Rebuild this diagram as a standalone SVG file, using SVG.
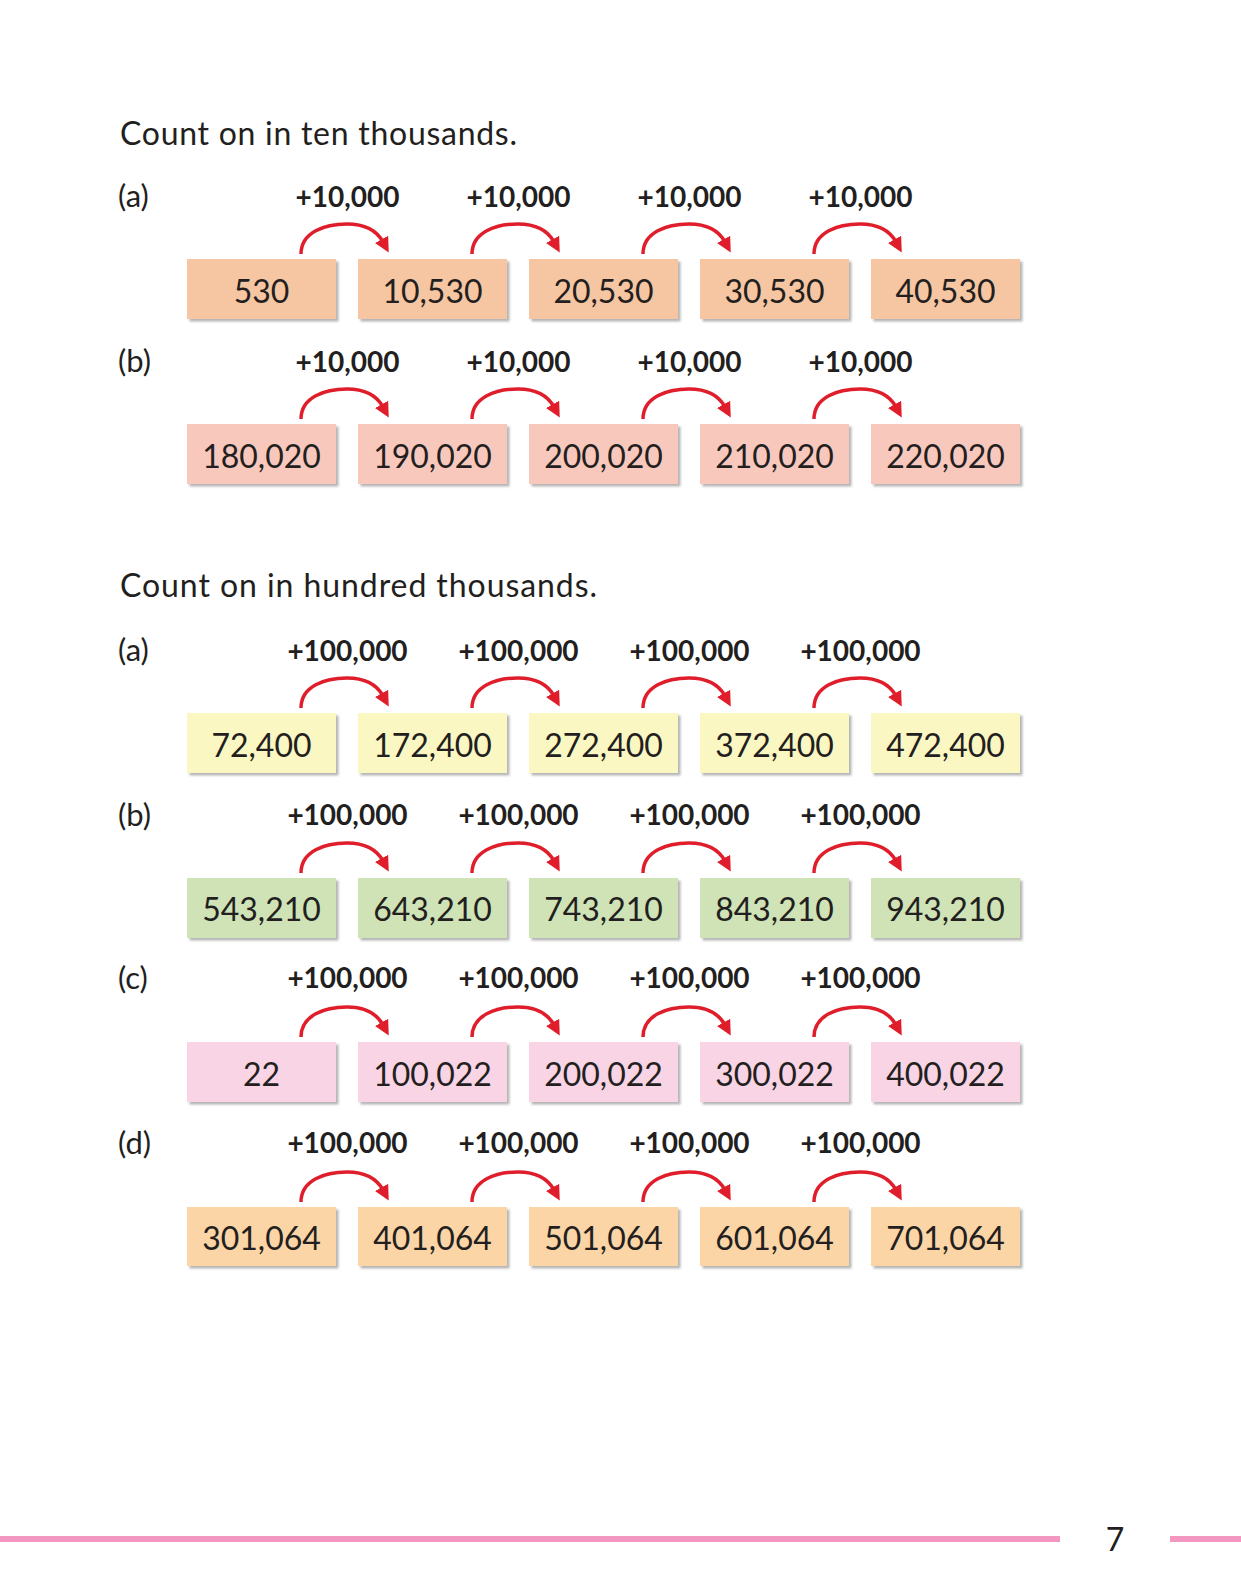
<svg xmlns="http://www.w3.org/2000/svg" width="1241" height="1595" viewBox="0 0 1241 1595">
<style>
.title{font-family:Lato,"Open Sans","Liberation Sans",sans-serif;font-size:32px;fill:#231f20}
.rl{font-family:Lato,"Open Sans","Liberation Sans",sans-serif;font-size:31px;fill:#231f20}
.lbl{font-family:Lato,"Liberation Sans",sans-serif;font-size:28px;font-weight:bold;fill:#231f20;text-anchor:middle}
.num{font-family:Lato,"Open Sans","Liberation Sans",sans-serif;font-size:32px;fill:#231f20;text-anchor:middle}
.box{filter:url(#sh)}
.c1{fill:#f6c6a2}.c2{fill:#f9c8bd}.c3{fill:#fbf7c2}.c4{fill:#cfe3b6}.c5{fill:#f8d4e4}.c6{fill:#fcd5a6}
.arr{fill:none;stroke:#e01e2b;stroke-width:3.5;marker-end:url(#ah)}
</style>
<defs>
<filter id="sh" x="-5%" y="-5%" width="115%" height="125%">
<feDropShadow dx="2.5" dy="2.5" stdDeviation="1.2" flood-color="#7a7a7a" flood-opacity="0.55"/>
</filter>
<marker id="ah" viewBox="0 0 10 10" refX="2" refY="5" markerWidth="15" markerHeight="15" markerUnits="userSpaceOnUse" orient="auto">
<path d="M0,0 L10,5 L0,10 z" fill="#e01e2b"/>
</marker>
</defs>
<rect width="1241" height="1595" fill="#ffffff"/>

<text class="title" x="120" y="145" textLength="397" lengthAdjust="spacing">Count on in ten thousands.</text>
<text class="title" x="120" y="597" textLength="477" lengthAdjust="spacing">Count on in hundred thousands.</text>

<g id="row-labels">
<text class="rl" x="118" y="207">(a)</text>
<text class="rl" x="118" y="372">(b)</text>
<text class="rl" x="118" y="661">(a)</text>
<text class="rl" x="118" y="826">(b)</text>
<text class="rl" x="118" y="989">(c)</text>
<text class="rl" x="118" y="1154">(d)</text>
</g>

<!-- Section 1 row a -->
<g id="n1a1"><rect class="box c1" x="187" y="259" width="149" height="60"/><text class="num" x="261.5" y="303">530</text></g>
<g id="n1a2"><rect class="box c1" x="358" y="259" width="149" height="60"/><text class="num" x="432.5" y="303">10,530</text></g>
<g id="n1a3"><rect class="box c1" x="529" y="259" width="149" height="60"/><text class="num" x="603.5" y="303">20,530</text></g>
<g id="n1a4"><rect class="box c1" x="700" y="259" width="149" height="60"/><text class="num" x="774.5" y="303">30,530</text></g>
<g id="n1a5"><rect class="box c1" x="871" y="259" width="149" height="60"/><text class="num" x="945.5" y="303">40,530</text></g>

<!-- Section 1 row b -->
<g id="n1b1"><rect class="box c2" x="187" y="424" width="149" height="60"/><text class="num" x="261.5" y="468">180,020</text></g>
<g id="n1b2"><rect class="box c2" x="358" y="424" width="149" height="60"/><text class="num" x="432.5" y="468">190,020</text></g>
<g id="n1b3"><rect class="box c2" x="529" y="424" width="149" height="60"/><text class="num" x="603.5" y="468">200,020</text></g>
<g id="n1b4"><rect class="box c2" x="700" y="424" width="149" height="60"/><text class="num" x="774.5" y="468">210,020</text></g>
<g id="n1b5"><rect class="box c2" x="871" y="424" width="149" height="60"/><text class="num" x="945.5" y="468">220,020</text></g>

<!-- Section 2 row a -->
<g id="n2a1"><rect class="box c3" x="187" y="713" width="149" height="60"/><text class="num" x="261.5" y="757">72,400</text></g>
<g id="n2a2"><rect class="box c3" x="358" y="713" width="149" height="60"/><text class="num" x="432.5" y="757">172,400</text></g>
<g id="n2a3"><rect class="box c3" x="529" y="713" width="149" height="60"/><text class="num" x="603.5" y="757">272,400</text></g>
<g id="n2a4"><rect class="box c3" x="700" y="713" width="149" height="60"/><text class="num" x="774.5" y="757">372,400</text></g>
<g id="n2a5"><rect class="box c3" x="871" y="713" width="149" height="60"/><text class="num" x="945.5" y="757">472,400</text></g>

<!-- Section 2 row b -->
<g id="n2b1"><rect class="box c4" x="187" y="878" width="149" height="60"/><text class="num" x="261.5" y="921">543,210</text></g>
<g id="n2b2"><rect class="box c4" x="358" y="878" width="149" height="60"/><text class="num" x="432.5" y="921">643,210</text></g>
<g id="n2b3"><rect class="box c4" x="529" y="878" width="149" height="60"/><text class="num" x="603.5" y="921">743,210</text></g>
<g id="n2b4"><rect class="box c4" x="700" y="878" width="149" height="60"/><text class="num" x="774.5" y="921">843,210</text></g>
<g id="n2b5"><rect class="box c4" x="871" y="878" width="149" height="60"/><text class="num" x="945.5" y="921">943,210</text></g>

<!-- Section 2 row c -->
<g id="n2c1"><rect class="box c5" x="187" y="1042" width="149" height="60"/><text class="num" x="261.5" y="1086">22</text></g>
<g id="n2c2"><rect class="box c5" x="358" y="1042" width="149" height="60"/><text class="num" x="432.5" y="1086">100,022</text></g>
<g id="n2c3"><rect class="box c5" x="529" y="1042" width="149" height="60"/><text class="num" x="603.5" y="1086">200,022</text></g>
<g id="n2c4"><rect class="box c5" x="700" y="1042" width="149" height="60"/><text class="num" x="774.5" y="1086">300,022</text></g>
<g id="n2c5"><rect class="box c5" x="871" y="1042" width="149" height="60"/><text class="num" x="945.5" y="1086">400,022</text></g>

<!-- Section 2 row d -->
<g id="n2d1"><rect class="box c6" x="187" y="1207" width="149" height="59"/><text class="num" x="261.5" y="1250">301,064</text></g>
<g id="n2d2"><rect class="box c6" x="358" y="1207" width="149" height="59"/><text class="num" x="432.5" y="1250">401,064</text></g>
<g id="n2d3"><rect class="box c6" x="529" y="1207" width="149" height="59"/><text class="num" x="603.5" y="1250">501,064</text></g>
<g id="n2d4"><rect class="box c6" x="700" y="1207" width="149" height="59"/><text class="num" x="774.5" y="1250">601,064</text></g>
<g id="n2d5"><rect class="box c6" x="871" y="1207" width="149" height="59"/><text class="num" x="945.5" y="1250">701,064</text></g>

<g id="connectors">
<!-- S1 row a -->
<path class="arr" d="M301,254 C301,232 325,224 347,224 C365,224 377,231 383,242"/>
<path class="arr" d="M472,254 C472,232 496,224 518,224 C536,224 548,231 554,242"/>
<path class="arr" d="M643,254 C643,232 667,224 689,224 C707,224 719,231 725,242"/>
<path class="arr" d="M814,254 C814,232 838,224 860,224 C878,224 890,231 896,242"/>
<!-- S1 row b -->
<path class="arr" d="M301,419 C301,397 325,389 347,389 C365,389 377,396 383,407"/>
<path class="arr" d="M472,419 C472,397 496,389 518,389 C536,389 548,396 554,407"/>
<path class="arr" d="M643,419 C643,397 667,389 689,389 C707,389 719,396 725,407"/>
<path class="arr" d="M814,419 C814,397 838,389 860,389 C878,389 890,396 896,407"/>
<!-- S2 row a -->
<path class="arr" d="M301,708 C301,686 325,678 347,678 C365,678 377,685 383,696"/>
<path class="arr" d="M472,708 C472,686 496,678 518,678 C536,678 548,685 554,696"/>
<path class="arr" d="M643,708 C643,686 667,678 689,678 C707,678 719,685 725,696"/>
<path class="arr" d="M814,708 C814,686 838,678 860,678 C878,678 890,685 896,696"/>
<!-- S2 row b -->
<path class="arr" d="M301,873 C301,851 325,843 347,843 C365,843 377,850 383,861"/>
<path class="arr" d="M472,873 C472,851 496,843 518,843 C536,843 548,850 554,861"/>
<path class="arr" d="M643,873 C643,851 667,843 689,843 C707,843 719,850 725,861"/>
<path class="arr" d="M814,873 C814,851 838,843 860,843 C878,843 890,850 896,861"/>
<!-- S2 row c -->
<path class="arr" d="M301,1037 C301,1015 325,1007 347,1007 C365,1007 377,1014 383,1025"/>
<path class="arr" d="M472,1037 C472,1015 496,1007 518,1007 C536,1007 548,1014 554,1025"/>
<path class="arr" d="M643,1037 C643,1015 667,1007 689,1007 C707,1007 719,1014 725,1025"/>
<path class="arr" d="M814,1037 C814,1015 838,1007 860,1007 C878,1007 890,1014 896,1025"/>
<!-- S2 row d -->
<path class="arr" d="M301,1202 C301,1180 325,1172 347,1172 C365,1172 377,1179 383,1190"/>
<path class="arr" d="M472,1202 C472,1180 496,1172 518,1172 C536,1172 548,1179 554,1190"/>
<path class="arr" d="M643,1202 C643,1180 667,1172 689,1172 C707,1172 719,1179 725,1190"/>
<path class="arr" d="M814,1202 C814,1180 838,1172 860,1172 C878,1172 890,1179 896,1190"/>

<g id="connector-labels">
<text class="lbl" x="347.5" y="207">+10,000</text>
<text class="lbl" x="518.5" y="207">+10,000</text>
<text class="lbl" x="689.5" y="207">+10,000</text>
<text class="lbl" x="860.5" y="207">+10,000</text>
<text class="lbl" x="347.5" y="372">+10,000</text>
<text class="lbl" x="518.5" y="372">+10,000</text>
<text class="lbl" x="689.5" y="372">+10,000</text>
<text class="lbl" x="860.5" y="372">+10,000</text>
<text class="lbl" x="347.5" y="661">+100,000</text>
<text class="lbl" x="518.5" y="661">+100,000</text>
<text class="lbl" x="689.5" y="661">+100,000</text>
<text class="lbl" x="860.5" y="661">+100,000</text>
<text class="lbl" x="347.5" y="825">+100,000</text>
<text class="lbl" x="518.5" y="825">+100,000</text>
<text class="lbl" x="689.5" y="825">+100,000</text>
<text class="lbl" x="860.5" y="825">+100,000</text>
<text class="lbl" x="347.5" y="988">+100,000</text>
<text class="lbl" x="518.5" y="988">+100,000</text>
<text class="lbl" x="689.5" y="988">+100,000</text>
<text class="lbl" x="860.5" y="988">+100,000</text>
<text class="lbl" x="347.5" y="1153">+100,000</text>
<text class="lbl" x="518.5" y="1153">+100,000</text>
<text class="lbl" x="689.5" y="1153">+100,000</text>
<text class="lbl" x="860.5" y="1153">+100,000</text>
</g>
</g>

<g id="footer">
<rect x="0" y="1536" width="1060" height="6" fill="#f397c0"/>
<rect x="1170" y="1536" width="71" height="6" fill="#f397c0"/>
<text x="1115" y="1551" text-anchor="middle" font-family="Lato,'Open Sans','Liberation Sans',sans-serif" font-size="32" fill="#231f20">7</text>
</g>
</svg>
